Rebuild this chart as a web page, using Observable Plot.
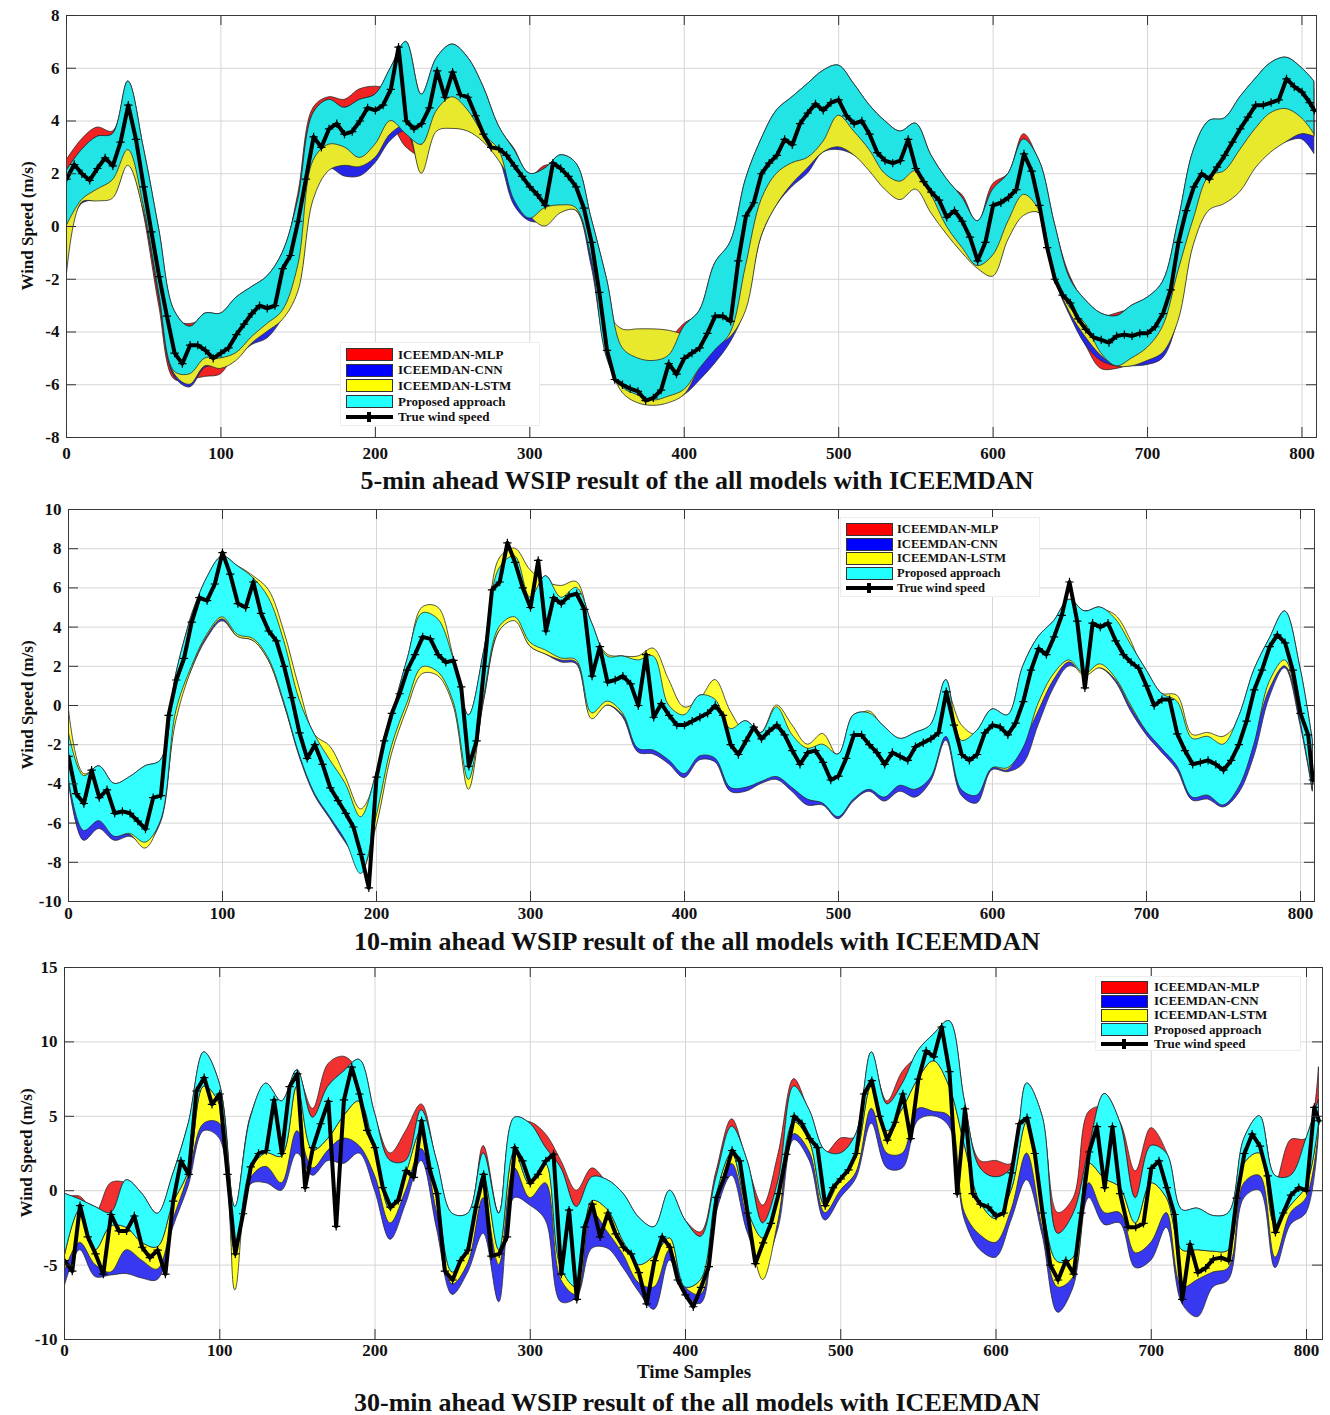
<!DOCTYPE html>
<html><head><meta charset="utf-8">
<script src="https://cdn.jsdelivr.net/npm/d3@7"></script>
<script src="https://cdn.jsdelivr.net/npm/@observablehq/plot@0.6"></script>
<style>
body{margin:0;background:#fff;font-family:"Liberation Serif","Times New Roman",serif;color:#111;}
#root{position:relative;width:1330px;}
.title{margin-left:64px;width:1266px;text-align:center;font-weight:bold;font-size:26px;white-space:nowrap;}
.legend{position:absolute;background:#fff;border:1px solid #eeeeee;box-sizing:border-box;font-weight:bold;}
.legend .row{display:flex;align-items:center;white-space:nowrap;}
.legend .sw{display:inline-block;width:45px;height:11px;border:1px solid #333;margin-right:5px;flex:none;}
.legend .ln{display:inline-block;width:47px;height:4px;background:#000;margin-right:5px;position:relative;flex:none;}
.legend .ln::after{content:"";position:absolute;left:21px;top:-3px;width:4px;height:10px;background:#000;}
.ylab{position:absolute;font-weight:bold;font-size:17px;white-space:nowrap;transform:translate(-50%,-50%) rotate(-90deg);}
.xlab{position:absolute;font-weight:bold;font-size:19px;white-space:nowrap;transform:translate(-50%,-50%);}
</style></head>
<body><div id="root"></div>
<script>
// ---------- shared labels ----------
const legendLabels = ["ICEEMDAN-MLP", "ICEEMDAN-CNN", "ICEEMDAN-LSTM", "Proposed approach", "True wind speed"];
const titles = [
  "5-min ahead WSIP result of the all models with ICEEMDAN",
  "10-min ahead WSIP result of the all models with ICEEMDAN",
  "30-min ahead WSIP result of the all models with ICEEMDAN"
];
const xTicks = [0, 100, 200, 300, 400, 500, 600, 700, 800];
const yTicks1 = [-8, -6, -4, -2, 0, 2, 4, 6, 8];
const yTicks2 = [-10, -8, -6, -4, -2, 0, 2, 4, 6, 8, 10];
const yTicks3 = [-10, -5, 0, 5, 10, 15];

// ---------- Panel 1 (5-min) : truth every 5 samples (0..805, 808) ----------
const p1Truth = [1.8,2.35,2.0,1.75,2.2,2.6,2.3,3.2,4.6,3.3,
1.5,-0.2,-1.9,-3.4,-4.8,-5.2,-4.5,-4.5,-4.7,-5.0,
-4.8,-4.6,-4.1,-3.7,-3.3,-3.0,-3.1,-3.0,-1.6,-1.1,
0.2,1.8,3.4,3.0,3.7,3.9,3.5,3.6,4.0,4.5,
4.4,4.6,5.2,6.8,4.0,3.7,3.9,4.5,5.9,4.9,
5.85,5.0,4.9,4.2,3.5,3.0,2.95,2.7,2.3,1.9,
1.5,1.2,0.8,2.4,2.2,1.9,1.5,0.7,-0.6,-2.5,
-4.7,-5.8,-6.0,-6.15,-6.25,-6.6,-6.5,-6.2,-5.2,-5.6,
-5.0,-4.8,-4.6,-4.05,-3.4,-3.4,-3.6,-1.3,0.4,0.9,
2.0,2.4,2.7,3.3,3.1,3.9,4.3,4.65,4.4,4.7,
4.8,4.2,3.9,4.0,3.5,2.8,2.5,2.4,2.5,3.3,
2.2,1.7,1.3,1.0,0.35,0.6,0.2,-0.4,-1.3,-0.6,
0.8,0.9,1.1,1.4,2.75,2.1,0.8,-0.8,-2.0,-2.6,
-2.9,-3.5,-3.9,-4.2,-4.3,-4.4,-4.15,-4.1,-4.15,-4.05,
-4.05,-3.8,-3.3,-2.4,-0.6,0.6,1.5,2.0,1.8,2.25,
2.7,3.2,3.7,4.15,4.6,4.6,4.7,4.8,5.6,5.3,
5.1,4.7,4.4];
// interval bounds every 10 samples (0..800, 808)
const p1PropHi = [2.1,2.9,3.4,3.5,5.5,3.0,-0.1,-3.2,-3.8,-3.3,
-3.3,-2.7,-2.3,-1.9,-1.0,1.0,4.3,4.8,4.5,4.8,
5.0,6.0,7.0,5.0,6.4,6.9,6.4,5.3,3.8,2.9,
2.0,2.2,2.7,2.4,0.3,-2.0,-4.6,-5.0,-5.1,-4.9,
-3.8,-3.2,-1.4,-0.6,1.8,3.3,4.4,4.9,5.4,5.9,
6.1,5.4,4.6,4.0,3.6,3.9,2.7,1.8,1.1,0.2,
1.4,2.0,3.3,2.5,0.1,-2.0,-2.8,-3.3,-3.4,-3.0,
-2.7,-2.1,0.2,2.9,4.0,4.1,4.9,5.6,6.2,6.4,
6.0,5.5];
const p1PropLo = [0.0,1.0,1.4,1.75,2.9,0.8,-2.5,-5.5,-5.6,-5.0,
-5.0,-4.8,-4.2,-3.7,-3.2,-1.5,2.5,3.1,3.0,2.6,
3.1,4.0,3.5,3.1,4.4,4.9,4.4,3.5,2.9,1.0,
0.3,0.7,0.8,0.7,-1.2,-5.0,-6.1,-6.4,-6.6,-6.45,
-6.2,-5.4,-4.7,-4.05,-1.5,1.0,2.0,2.4,2.6,3.2,
4.2,3.6,2.9,2.0,1.7,2.1,1.2,0.0,-0.8,-1.5,
-1.1,0.2,1.2,0.6,-1.8,-3.1,-3.7,-4.8,-5.3,-5.0,
-4.6,-3.8,-1.7,0.3,1.9,2.1,2.9,3.7,4.3,4.45,
4.1,3.5];
const p1LstmHi = [0.0,1.5,1.9,2.2,3.4,1.2,-2.0,-4.6,-4.6,-4.6,
-4.6,-4.2,-3.6,-3.2,-2.6,-1.0,2.9,3.4,3.3,3.1,
3.6,4.5,5.0,3.1,4.6,5.2,4.7,3.8,3.1,1.6,
0.9,1.0,1.5,1.3,-0.8,-3.2,-3.9,-3.9,-3.9,-3.95,
-4.1,-4.2,-3.9,-3.2,-0.8,1.5,2.4,2.8,3.0,3.6,
4.5,4.1,3.2,2.4,2.0,2.4,1.5,0.3,-0.4,-1.0,
-0.9,0.4,1.4,1.0,-1.4,-2.7,-3.6,-4.3,-4.7,-4.7,
-4.3,-3.5,-1.4,0.6,2.1,2.4,3.1,3.9,4.6,4.7,
4.4,4.0];
const p1LstmLo = [-2.0,0.9,0.95,1.05,2.3,0.6,-2.6,-5.6,-6.0,-5.3,
-5.4,-5.1,-4.45,-4.0,-3.55,-2.5,1.0,2.1,2.3,2.25,
2.6,3.5,3.8,2.0,3.6,3.7,3.6,3.2,2.5,1.5,
0.4,0.0,0.5,0.6,-1.2,-4.8,-6.3,-6.7,-6.8,-6.7,
-6.4,-5.4,-4.6,-4.2,-3.2,-0.4,0.8,1.6,2.2,2.8,
3.0,2.7,2.1,1.4,1.0,1.4,0.5,-0.3,-1.0,-1.6,
-1.9,-0.5,0.4,0.5,-1.9,-3.3,-4.2,-4.9,-5.3,-5.3,
-5.1,-4.8,-3.6,-0.7,0.6,0.85,1.3,2.2,2.8,3.2,
3.5,3.4];
const p1MlpHi = [2.5,3.3,3.75,3.6,5.0,2.8,-0.4,-3.5,-3.7,-3.5,
-3.5,-2.9,-2.5,-2.1,-1.2,1.2,4.5,4.9,4.8,5.2,
5.3,5.2,5.0,4.5,5.5,6.0,5.8,4.8,3.7,2.95,
1.9,2.3,2.3,2.0,0.0,-2.5,-4.5,-4.6,-4.5,-4.3,
-3.7,-3.3,-1.8,-0.8,1.5,3.0,4.0,4.5,5.0,5.5,
5.6,5.0,4.3,3.7,3.4,3.6,2.5,1.6,1.2,0.1,
1.6,2.0,3.5,2.4,0.0,-1.9,-2.9,-3.4,-3.3,-3.1,
-2.8,-2.3,0.0,2.5,3.6,3.8,4.5,5.2,5.8,6.0,
5.6,5.2];
const p1MlpLo = [0.5,1.2,1.5,1.9,3.0,0.5,-3.0,-5.8,-5.8,-5.7,
-5.6,-4.7,-4.1,-3.6,-3.0,-1.2,2.6,3.2,3.1,2.8,
3.2,3.8,3.0,2.7,4.3,4.8,4.3,3.4,2.8,1.2,
0.5,0.8,0.9,0.8,-1.0,-4.8,-6.2,-6.5,-6.6,-6.4,
-6.1,-5.3,-4.6,-3.9,-1.4,1.1,2.1,2.5,2.7,3.1,
3.0,2.8,2.4,1.6,1.2,1.6,0.7,-0.2,-0.9,-1.5,
-1.5,-0.3,1.0,0.6,-1.7,-3.3,-4.5,-5.4,-5.4,-5.2,
-4.8,-4.2,-2.0,0.2,1.8,2.0,2.7,3.5,4.1,4.3,
4.0,3.4];
const p1CnnLo = [-0.5,0.85,1.0,1.1,2.4,0.6,-2.7,-5.7,-6.1,-5.35,
-5.3,-5.0,-4.5,-4.25,-3.5,-2.4,1.2,2.2,1.9,1.9,
2.4,3.25,3.6,2.2,3.7,3.8,3.7,3.3,2.6,0.8,
0.2,0.2,0.6,0.6,-1.5,-4.9,-6.2,-6.6,-6.7,-6.6,
-6.4,-5.85,-5.2,-4.4,-3.1,-0.4,0.8,1.5,2.0,2.8,
2.9,2.7,2.2,1.5,1.1,1.5,0.6,-0.2,-0.9,-1.5,
-1.8,-0.4,0.5,0.5,-2.0,-3.4,-4.5,-5.1,-5.3,-5.3,
-5.25,-5.0,-3.5,-0.6,0.7,0.9,1.4,2.3,2.9,3.2,
3.3,2.75];

// ---------- Panel 2 (10-min) ----------
const p2Truth = [-2.6,-4.5,-5.0,-3.3,-4.7,-4.3,-5.5,-5.4,-5.5,-5.9,
-6.3,-4.7,-4.6,-0.5,1.3,2.4,4.25,5.5,5.35,6.2,
7.8,6.7,5.2,5.0,6.3,4.7,3.8,3.3,2.0,0.4,
-1.4,-2.7,-2.0,-3.0,-4.2,-4.85,-5.5,-6.2,-7.6,-9.3,
-3.65,-1.8,-0.4,0.6,1.8,2.6,3.5,3.4,2.6,2.2,
2.3,0.95,-3.1,-1.8,2.0,5.9,6.3,8.3,7.3,6.0,
5.0,7.4,3.8,5.5,5.2,5.6,5.7,4.9,1.5,3.0,
1.2,1.3,1.5,1.1,0.0,2.6,-0.6,0.1,-0.5,-1.0,
-1.0,-0.8,-0.6,-0.4,0.0,-0.5,-2.0,-2.5,-1.8,-1.1,
-1.7,-1.3,-1.0,-1.5,-2.3,-3.0,-2.4,-2.3,-2.9,-3.8,
-3.6,-2.7,-1.5,-1.5,-2.0,-2.4,-3.0,-2.4,-2.6,-2.8,
-2.1,-1.9,-1.7,-1.4,0.7,-1.0,-2.5,-2.8,-2.5,-1.4,
-1.0,-1.1,-1.5,-0.9,0.2,1.8,2.9,2.6,3.5,4.6,
6.3,4.3,0.9,4.2,4.0,4.2,3.3,2.6,2.2,1.9,
1.0,0.0,0.3,0.3,-1.45,-2.3,-3.0,-2.9,-2.8,-3.0,
-3.3,-2.8,-2.0,-0.8,0.8,1.8,3.0,3.6,3.2,1.8,
-0.4,-1.5,-3.8];
const p2PropHi = [-1.3,-3.6,-3.1,-4.0,-3.65,-3.1,-2.8,1.6,4.5,6.5,
7.6,7.1,6.5,5.5,3.3,0.3,-1.5,-2.8,-4.0,-5.7,
-3.5,-0.6,2.3,4.7,4.4,2.4,-0.5,2.8,7.0,7.6,
5.5,6.6,5.5,6.0,4.2,2.5,2.5,2.3,2.5,0.0,
-0.5,0.5,0.3,-1.2,-0.8,-1.4,-0.1,-1.5,-2.2,-2.0,
-2.5,-0.5,-0.4,-1.1,-1.7,-1.4,-1.0,1.3,-1.8,-1.3,
-0.2,-0.5,2.0,3.5,4.3,5.4,4.8,5.0,4.4,3.1,
1.8,0.6,0.2,-1.7,-1.6,-2.0,-0.6,1.8,3.4,4.8,
1.9,-1.8];
const p2PropLo = [-3.65,-6.4,-5.9,-6.7,-6.55,-7.0,-5.9,-0.3,1.95,3.6,
4.5,3.6,3.4,2.4,0.2,-2.5,-4.5,-5.7,-6.9,-8.6,
-5.7,-2.1,0.1,1.95,1.7,0.2,-3.8,0.5,4.0,4.5,
3.2,2.8,2.4,2.3,-0.4,0.2,-0.4,-2.2,-2.3,-2.8,
-3.5,-2.6,-2.7,-4.2,-4.2,-3.9,-3.65,-4.2,-4.8,-5.0,
-5.7,-4.8,-4.3,-4.7,-4.1,-4.3,-3.7,-1.6,-4.3,-4.6,
-3.2,-3.2,-2.2,0.1,1.6,2.3,1.6,2.1,1.4,0.0,
-1.3,-2.2,-3.1,-4.7,-4.6,-5.1,-4.2,-2.0,1.2,2.3,
-0.8,-4.3];
const p2LstmHi = [0.0,-3.5,-3.2,-4.1,-3.8,-3.9,-3.0,1.0,4.6,6.3,
7.4,7.1,6.6,5.9,3.8,0.9,-1.5,-2.1,-3.65,-5.3,
-3.8,-1.0,2.0,5.0,5.0,2.5,-0.8,2.0,7.5,8.0,
6.9,6.3,6.1,6.3,4.0,2.6,2.5,2.5,2.9,1.3,
-0.1,0.3,1.3,-0.3,-1.4,-1.4,0.0,-1.0,-2.0,-1.45,
-2.6,-0.8,-0.3,-1.2,-1.9,-1.5,-1.1,0.8,-1.0,-1.5,
-0.3,-0.6,1.8,3.3,4.2,5.0,4.8,4.9,4.6,3.3,
1.4,0.6,0.5,-1.5,-1.4,-1.6,-0.8,1.5,3.1,4.5,
0.3,-2.0];
const p2LstmLo = [-3.0,-6.2,-5.8,-6.6,-6.6,-7.3,-5.8,-0.8,1.8,3.5,
4.4,3.5,3.3,2.3,0.1,-2.4,-4.3,-5.5,-6.7,-8.5,
-6.2,-2.5,-0.2,1.6,1.5,0.0,-4.3,0.3,3.8,4.3,
3.0,2.6,2.3,2.2,-0.7,0.0,-0.5,-2.1,-2.2,-2.7,
-3.4,-2.5,-2.6,-4.1,-4.1,-3.8,-3.5,-4.0,-4.7,-4.8,
-5.5,-4.6,-4.1,-4.5,-4.0,-4.3,-3.6,-1.5,-4.2,-4.5,
-3.2,-3.3,-2.0,-0.3,1.3,2.2,1.5,1.9,1.3,-0.1,
-1.3,-2.1,-3.0,-4.5,-4.6,-5.0,-4.1,-1.8,0.8,2.0,
-0.6,-4.0];
const p2CnnLo = [-3.8,-6.9,-6.3,-6.9,-6.7,-7.1,-6.0,-0.5,1.8,3.4,
4.3,3.5,3.3,2.3,0.1,-2.6,-4.6,-5.8,-7.0,-8.0,
-5.9,-2.3,-0.1,1.8,1.6,0.1,-4.0,0.3,3.8,4.4,
3.0,2.6,2.2,2.1,-0.6,0.0,-0.6,-2.4,-2.5,-3.0,
-3.7,-2.8,-2.9,-4.4,-4.4,-4.0,-3.8,-4.4,-5.1,-5.1,
-5.8,-4.9,-4.4,-4.9,-4.4,-4.7,-3.9,-1.8,-4.6,-5.0,
-3.3,-3.4,-3.0,-1.0,0.9,2.0,1.7,1.9,1.2,-0.3,
-1.5,-2.4,-3.3,-4.85,-4.8,-5.2,-4.5,-2.6,0.4,1.9,
-1.0,-4.4];

// ---------- Panel 3 (30-min) ----------
const p3Truth = [-4.7,-5.4,-1.0,-3.1,-4.25,-5.6,-1.6,-2.7,-2.7,-1.7,
-3.8,-4.5,-4.0,-5.6,-0.7,2.0,1.1,6.7,7.6,5.8,
6.5,1.1,-4.25,-1.55,1.6,2.5,2.7,6.1,2.5,7.0,
7.85,0.2,2.9,4.5,6.0,-2.4,6.1,8.3,6.5,4.05,
2.9,0.2,-1.1,-0.65,1.35,0.9,4.7,1.5,-0.2,-5.4,
-6.0,-4.7,-4.0,-1.1,1.1,-4.4,-4.25,-3.1,2.9,2.0,
0.5,1.1,2.0,2.45,-5.6,-1.3,-7.3,-2.45,-0.9,-3.1,
-1.5,-2.9,-3.8,-4.25,-5.5,-7.6,-4.7,-3.1,-3.8,-6.0,
-7.0,-7.8,-6.5,-5.1,-0.45,0.9,2.7,2.0,-1.5,-4.9,
-3.5,-2.2,-0.2,2.45,5.0,4.5,3.5,2.9,-1.0,0.2,
0.8,1.4,2.5,6.5,7.4,5.0,3.4,4.6,6.5,3.5,
7.5,9.4,9.0,11.0,8.0,-0.2,5.5,-0.2,-0.9,-1.1,
-1.7,-1.5,1.2,4.5,4.9,2.5,-1.5,-5.0,-6.0,-4.7,
-5.6,-1.5,2.6,4.3,0.2,4.3,-0.2,-2.45,-2.45,-2.2,
1.5,2.0,0.2,-1.6,-7.3,-3.6,-5.5,-5.2,-4.6,-4.5,
-4.7,-0.5,2.5,3.8,3.0,1.0,-2.8,-1.5,-0.3,0.2,
0.0,5.6,4.7];
const p3PropHi = [-0.2,-0.6,-1.1,-1.5,0.7,-0.2,-1.55,1.1,4.5,9.3,
7.2,-1.1,4.9,7.2,6.0,8.1,4.9,7.0,8.0,8.8,
5.2,2.0,2.0,5.4,2.0,-1.55,-1.55,2.5,-1.55,4.9,
4.5,2.9,1.5,-1.1,0.9,0.7,-0.2,-1.8,-2.45,0.0,
-2.0,-3.1,0.9,4.3,2.0,-2.2,0.7,7.0,5.4,2.7,
2.5,3.8,9.3,5.8,7.2,9.4,10.5,11.4,6.0,1.5,
0.9,1.5,7.2,5.0,-2.9,-1.55,2.8,6.5,4.6,-0.5,
3.0,2.5,-1.3,-1.2,-1.7,-1.5,3.5,5.0,1.0,1.0,
3.5,6.1];
const p3PropLo = [-4.5,-1.3,-4.0,-2.4,-2.5,-3.5,-3.8,-0.9,1.3,7.0,
5.8,-4.0,1.4,2.5,2.3,7.0,2.7,3.5,5.0,6.0,
2.7,-1.3,1.1,4.0,-0.5,-5.5,-3.8,1.0,-4.0,2.6,
0.4,1.8,-5.2,-6.5,-0.7,-1.3,-3.4,-5.0,-4.4,-3.2,
-6.5,-6.0,-0.3,2.5,-1.3,-3.2,-0.1,4.6,3.3,-1.0,
0.8,2.3,7.0,4.0,5.5,7.5,8.7,7.0,3.0,-0.8,
-1.9,0.0,4.6,-1.0,-4.8,-4.5,1.8,0.8,0.2,-2.2,
0.5,-0.5,-4.0,-4.0,-4.1,-4.0,1.8,2.5,-2.3,-1.0,
0.3,4.5];
const p3MlpHi = [-0.5,-0.4,-1.5,0.5,0.5,-0.4,-1.8,1.0,4.4,8.5,
7.0,-1.3,5.0,7.0,5.3,7.8,5.5,8.5,9.0,8.0,
5.0,2.5,4.0,5.8,1.8,-1.7,-1.7,3.0,-1.5,4.5,
4.6,3.8,2.0,0.0,1.5,0.5,-0.4,-2.0,-2.6,-0.2,
-2.0,-2.8,1.3,4.8,1.8,-1.0,2.5,7.5,5.2,2.5,
3.5,3.6,8.8,6.0,8.0,9.0,9.5,10.0,5.5,2.0,
2.0,1.8,6.8,4.6,-1.5,-0.5,5.3,5.6,4.6,1.3,
4.2,2.6,-1.6,-1.5,-1.9,-1.7,3.3,4.8,0.5,3.4,
3.5,8.3];
const p3LstmLo = [-5.5,-3.5,-5.0,-5.5,-4.0,-4.7,-5.3,-2.0,1.0,4.5,
4.5,-6.7,0.8,1.6,0.5,4.0,1.5,2.7,3.5,3.0,
1.0,-2.2,0.0,2.8,-1.5,-6.3,-4.9,-0.5,-5.0,1.5,
-0.5,0.5,-6.0,-7.0,-1.5,-2.8,-4.3,-6.2,-6.5,-4.0,
-6.5,-7.0,-1.0,1.8,-2.0,-6.0,-2.0,3.8,2.6,-1.5,
0.0,1.2,5.5,2.5,2.5,5.5,5.3,5.0,-1.5,-3.0,
-3.5,-1.3,2.5,-2.5,-6.5,-5.8,0.5,-1.5,-1.5,-4.2,
-3.5,-1.5,-6.5,-6.0,-5.5,-5.2,0.5,1.0,-4.5,-1.5,
-0.5,4.0];
const p3CnnLo = [-6.5,-4.0,-5.8,-5.7,-5.6,-5.9,-6.0,-2.5,0.3,4.0,
3.5,-5.0,0.4,0.5,0.0,2.5,1.0,2.0,1.8,2.5,
0.0,-3.3,-0.9,2.0,-2.6,-7.0,-5.5,-2.9,-7.5,-0.5,
-1.0,-2.0,-7.5,-7.2,-3.9,-3.9,-5.2,-6.8,-8.0,-4.7,
-7.0,-7.6,-1.5,1.0,-2.8,-5.0,-2.5,3.4,2.0,-2.0,
-0.5,0.8,4.5,1.5,1.5,4.7,5.0,4.3,-2.0,-4.0,
-4.5,-2.0,0.7,-3.0,-8.2,-6.5,-0.5,-2.3,-2.2,-5.2,
-4.7,-2.5,-7.6,-8.5,-6.5,-6.0,-0.5,0.0,-5.2,-2.3,
-1.5,3.8];

// ---------- rendering ----------
const bandX = d3.range(0, 801, 10).concat([808]);
const truthX = d3.range(0, 806, 5).concat([808]);
const FONT = '"Liberation Serif","Times New Roman",serif';

function makePanel(cfg) {
  const W = 1330;
  const iw = W - cfg.ml - cfg.mr, ih = cfg.h - cfg.mt - cfg.mb;
  const rows = bandX.map((x, i) => ({
    x,
    pLo: cfg.propLo[i], pHi: cfg.propHi[i],
    lLo: cfg.lstmLo[i], lHi: (cfg.lstmHi || cfg.propLo)[i],
    mLo: (cfg.mlpLo || cfg.propLo)[i], mHi: cfg.mlpHi ? cfg.mlpHi[i] : null,
    cLo: cfg.cnnLo[i]
  }));
  const truth = truthX.map((x, i) => ({x, y: cfg.truth[i]}));
  const area = (y1, y2, fill) => Plot.areaY(rows, {x: "x", y1, y2, fill, stroke: "#2a2a2a", strokeWidth: 0.8, curve: "catmull-rom", clip: true});
  const marks = [
    Plot.gridX({ticks: xTicks, stroke: "#d6d6d6", strokeOpacity: 1}),
    Plot.gridY({ticks: cfg.yTicks, stroke: "#d6d6d6", strokeOpacity: 1})
  ];
  if (cfg.mlpHi) marks.push(area("mLo", "mHi", cfg.colors.mlp));
  marks.push(area("cLo", "pHi", cfg.colors.cnn));
  marks.push(area("lLo", "lHi", cfg.colors.lstm));
  marks.push(area("pLo", "pHi", cfg.colors.prop));
  marks.push(Plot.line(truth, {x: "x", y: "y", stroke: "#000", strokeWidth: 4, clip: true}));
  marks.push(Plot.dot(truth, {x: "x", y: "y", symbol: "plus", r: 2.8, stroke: "#000", strokeWidth: 1.2, clip: true}));
  marks.push(Plot.frame({stroke: "#3a3a3a", strokeWidth: 1}));
  marks.push(Plot.tickY(cfg.yTicks, {y: d => d, insetRight: iw - 10, stroke: "#333"}));
  marks.push(Plot.tickY(cfg.yTicks, {y: d => d, insetLeft: iw - 10, stroke: "#333"}));
  marks.push(Plot.tickX(xTicks, {x: d => d, insetTop: ih - 10, stroke: "#333"}));
  marks.push(Plot.tickX(xTicks, {x: d => d, insetBottom: ih - 10, stroke: "#333"}));
  marks.push(Plot.axisX({ticks: xTicks, tickSize: 0, tickPadding: cfg.xPad, label: null, tickFormat: d => String(d)}));
  marks.push(Plot.axisY({ticks: cfg.yTicks, tickSize: 0, tickPadding: 7, label: null, tickFormat: d => String(d)}));
  return Plot.plot({
    width: W, height: cfg.h,
    marginTop: cfg.mt, marginBottom: cfg.mb, marginLeft: cfg.ml, marginRight: cfg.mr,
    x: {domain: [0, cfg.xmax]},
    y: {domain: cfg.yDomain},
    style: {fontFamily: FONT, fontSize: "17px", fontWeight: "bold", color: "#111", background: "#fff", overflow: "visible"},
    marks
  });
}

const root = document.getElementById("root");
function addTitle(text, h) {
  const d = document.createElement("div");
  d.className = "title";
  d.style.height = h + "px";
  d.style.lineHeight = h + "px";
  d.textContent = text;
  root.appendChild(d);
}
function addLegend(o) {
  const box = document.createElement("div");
  box.className = "legend";
  Object.assign(box.style, {left: o.left + "px", top: o.top + "px", width: o.width + "px", height: o.height + "px",
    padding: o.padTop + "px 0 0 5px", fontSize: o.fontSize + "px"});
  const sw = ["#ff0000", "#0000ff", "#ffff00", "#22ffff"];
  legendLabels.forEach((lab, i) => {
    const r = document.createElement("div");
    r.className = "row";
    r.style.height = o.pitch + "px";
    const s = document.createElement("span");
    if (i < 4) { s.className = "sw"; s.style.background = sw[i]; } else { s.className = "ln"; }
    s.style.marginRight = o.gap + "px";
    r.appendChild(s);
    r.appendChild(document.createTextNode(lab));
    box.appendChild(r);
  });
  root.appendChild(box);
}
function addText(cls, text, x, y) {
  const d = document.createElement("div");
  d.className = cls;
  d.style.left = x + "px"; d.style.top = y + "px";
  d.textContent = text;
  root.appendChild(d);
}

root.appendChild(makePanel({
  h: 465, mt: 15, mb: 28, ml: 66, mr: 14, xmax: 809.4, yDomain: [-8, 8], yTicks: yTicks1, xPad: 9,
  truth: p1Truth, propHi: p1PropHi, propLo: p1PropLo, lstmHi: p1LstmHi, lstmLo: p1LstmLo,
  mlpHi: p1MlpHi, mlpLo: p1MlpLo, cnnLo: p1CnnLo,
  colors: {mlp: "#f22222", cnn: "#2626e8", lstm: "#e8e82c", prop: "#22e4e4"}
}));
addTitle(titles[0], 32);
root.appendChild(makePanel({
  h: 432, mt: 12, mb: 28, ml: 68, mr: 16, xmax: 809.1, yDomain: [-10, 10], yTicks: yTicks2, xPad: 5,
  truth: p2Truth, propHi: p2PropHi, propLo: p2PropLo, lstmHi: p2LstmHi, lstmLo: p2LstmLo,
  mlpHi: null, mlpLo: null, cnnLo: p2CnnLo,
  colors: {mlp: "#f22222", cnn: "#3333ee", lstm: "#ffff33", prop: "#33ffff"}
}));
addTitle(titles[1], 26);
root.appendChild(makePanel({
  h: 430, mt: 12, mb: 46, ml: 64, mr: 8, xmax: 810.3, yDomain: [-10, 15], yTicks: yTicks3, xPad: 4,
  truth: p3Truth, propHi: p3PropHi, propLo: p3PropLo, lstmHi: null, lstmLo: p3LstmLo,
  mlpHi: p3MlpHi, mlpLo: null, cnnLo: p3CnnLo,
  colors: {mlp: "#f23030", cnn: "#3838f0", lstm: "#ffff22", prop: "#33ffff"}
}));
addTitle(titles[2], 36);

addLegend({left: 340, top: 342, width: 200, height: 84, padTop: 4, pitch: 15.6, fontSize: 13, gap: 5});
addLegend({left: 840, top: 517, width: 200, height: 80, padTop: 4, pitch: 14.7, fontSize: 12.5, gap: 4});
addLegend({left: 1095, top: 976, width: 206, height: 75, padTop: 3, pitch: 14.2, fontSize: 13, gap: 6});

addText("ylab", "Wind Speed (m/s)", 28, 226);
addText("ylab", "Wind Speed (m/s)", 28, 705);
addText("ylab", "Wind Speed (m/s)", 27, 1153);
addText("xlab", "Time Samples", 694, 1372);
</script>
</body></html>
